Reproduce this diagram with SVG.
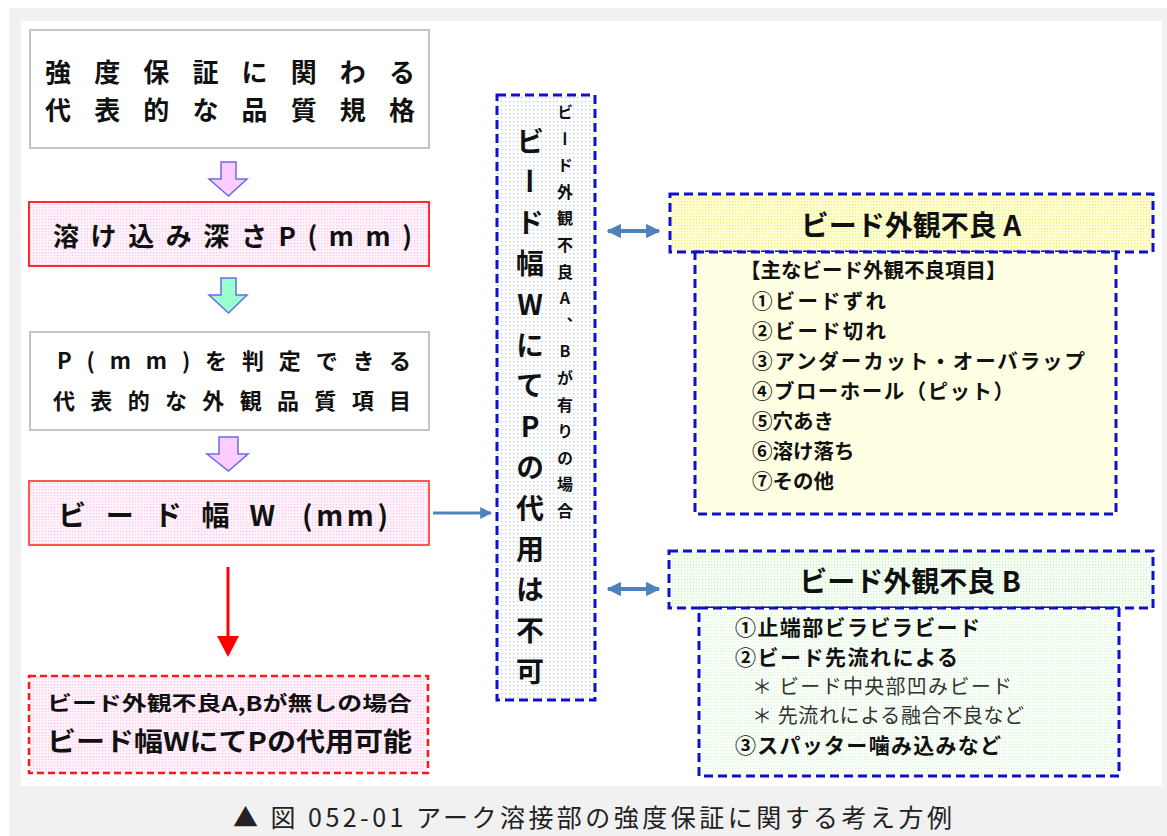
<svg xmlns="http://www.w3.org/2000/svg" width="1167" height="836" viewBox="0 0 1167 836">
<style>
.jp{font-family:"Noto Sans CJK JP","Noto Sans CJK SC",sans-serif;fill:#111}
.b{font-weight:bold}
.vt{writing-mode:vertical-rl;text-orientation:upright}
.blue{fill:none;stroke:#1010cc;stroke-width:3;stroke-dasharray:9 5}
.cap{font-family:"Noto Sans CJK JP","Noto Sans CJK SC",sans-serif;fill:#222}
</style>
<defs>
<pattern id="pinkDots" width="3" height="3" patternUnits="userSpaceOnUse">
<rect width="3" height="3" fill="#fff2fb"/><rect width="1.2" height="1.2" fill="#ffc4ec"/>
</pattern>
<pattern id="blueDots" width="4" height="4" patternUnits="userSpaceOnUse">
<rect width="4" height="4" fill="#ffffff"/><rect x="1" y="1" width="1.2" height="1.2" fill="#b4c4e4"/>
</pattern>
<pattern id="yellowDots" width="3" height="3" patternUnits="userSpaceOnUse">
<rect width="3" height="3" fill="#ffffd8"/><rect width="1.3" height="1.3" fill="#f2ee70"/>
</pattern>
<pattern id="greenDots" width="3" height="3" patternUnits="userSpaceOnUse">
<rect width="3" height="3" fill="#f6fff4"/><rect width="1.2" height="1.2" fill="#cdeec8"/>
</pattern>
<pattern id="greenDots2" width="3" height="3" patternUnits="userSpaceOnUse">
<rect width="3" height="3" fill="#f8fff6"/><rect width="1" height="1" fill="#d8f2d4"/>
</pattern>
<marker id="ah" viewBox="0 0 10 10" refX="9" refY="5" markerWidth="4" markerHeight="4" orient="auto-start-reverse">
<path d="M0,0 L10,5 L0,10 z" fill="#4f81bd"/>
</marker>
<marker id="ah2" viewBox="0 0 10 10" refX="9" refY="5" markerWidth="3.6" markerHeight="3.6" orient="auto-start-reverse">
<path d="M0,0 L10,5 L0,10 z" fill="#4f81bd"/>
</marker>
</defs>

<rect x="0" y="0" width="1167" height="836" fill="#ffffff"/>
<rect x="9" y="8" width="1158" height="828" fill="#f1f1f1"/>
<rect x="21" y="21" width="1141" height="765" fill="#ffffff"/>

<g id="box-standard">
<rect x="30" y="30" width="399" height="118" fill="#ffffff" stroke="#c4c4c4" stroke-width="2"/>
<text class="jp b" x="45" y="82" font-size="26" textLength="370" lengthAdjust="spacing">強度保証に関わる</text>
<text class="jp b" x="45" y="120" font-size="26" textLength="370" lengthAdjust="spacing">代表的な品質規格</text>
</g>

<g id="box-depth">
<rect x="29" y="202" width="400" height="64" fill="url(#pinkDots)" stroke="#ff2a2a" stroke-width="2"/>
<text class="jp b" x="53" y="246" font-size="26" textLength="359" lengthAdjust="spacing">溶け込み深さP(mm)</text>
</g>

<g id="box-items">
<rect x="30" y="332" width="399" height="98" fill="#ffffff" stroke="#c4c4c4" stroke-width="2"/>
<text class="jp b" x="57" y="369" font-size="22" textLength="354" lengthAdjust="spacing">P(mm)を判定できる</text>
<text class="jp b" x="53" y="409" font-size="22" textLength="358" lengthAdjust="spacing">代表的な外観品質項目</text>
</g>

<g id="box-width">
<rect x="29" y="481" width="400" height="64" fill="url(#pinkDots)" stroke="#ff5555" stroke-width="2"/>
<text class="jp b" x="58" y="526" font-size="28" textLength="217" lengthAdjust="spacing">ビード幅W</text>
<text class="jp b" x="302" y="526" font-size="28" textLength="86" lengthAdjust="spacing">(mm)</text>
</g>

<g id="box-possible">
<rect x="29" y="676" width="399" height="97" fill="url(#pinkDots)" stroke="#ff1a1a" stroke-width="2.5" stroke-dasharray="7 4"/>
<text class="jp b" x="47" y="711" font-size="20" textLength="365" lengthAdjust="spacingAndGlyphs">ビード外観不良A,Bが無しの場合</text>
<text class="jp b" x="47" y="751" font-size="26" textLength="365" lengthAdjust="spacingAndGlyphs">ビード幅WにてPの代用可能</text>
</g>

<g id="box-not-possible">
<rect x="497" y="95" width="98" height="605" fill="url(#blueDots)"/>
<rect x="497" y="95" width="98" height="605" class="blue"/>
<text class="jp b vt" x="530" y="127" font-size="28" letter-spacing="12.8">ビード幅WにてPの代用は不可</text>
<text class="jp b vt" x="565" y="104" font-size="16" letter-spacing="10.6">ビード外観不良A、Bが有りの場合</text>
</g>

<g id="box-a-header">
<rect x="670" y="194" width="483" height="58" fill="url(#yellowDots)"/>
<rect x="670" y="194" width="483" height="58" class="blue"/>
<text class="jp b" x="911" y="236" font-size="28" text-anchor="middle">ビード外観不良 A</text>
</g>

<g id="box-a-body">
<rect x="695" y="252" width="421" height="262" fill="#ffffe4"/>
<rect x="695" y="252" width="421" height="262" class="blue"/>
<g class="jp b" font-size="20.5">
<text x="740" y="278">【主なビード外観不良項目】</text>
<text x="752" y="309" textLength="134">①ビードずれ</text>
<text x="752" y="339" textLength="134">②ビード切れ</text>
<text x="752" y="369" textLength="333">③アンダーカット・オーバラップ</text>
<text x="752" y="399" textLength="262">④ブローホール（ピット）</text>
<text x="752" y="429">⑤穴あき</text>
<text x="752" y="459">⑥溶け落ち</text>
<text x="752" y="489">⑦その他</text>
</g>
</g>

<g id="box-b-header">
<rect x="669" y="551" width="484" height="57" fill="url(#greenDots)"/>
<rect x="669" y="551" width="484" height="57" class="blue"/>
<text class="jp b" x="910" y="592" font-size="28" text-anchor="middle">ビード外観不良 B</text>
</g>

<g id="box-b-body">
<rect x="699" y="608" width="420" height="168" fill="url(#greenDots2)"/>
<rect x="699" y="608" width="420" height="168" class="blue"/>
<g class="jp" font-size="21">
<text class="b" x="735" y="635" textLength="245">①止端部ビラビラビード</text>
<text class="b" x="735" y="665" textLength="223">②ビード先流れによる</text>
<text x="752" y="694" font-size="20" style="fill:#333" textLength="260">＊ ビード中央部凹みビード</text>
<text x="752" y="723" font-size="20" style="fill:#333" textLength="272">＊ 先流れによる融合不良など</text>
<text class="b" x="735" y="753" textLength="266">③スパッター噛み込みなど</text>
</g>
</g>

<g id="connectors">
<path d="M221,162 H236 V179 H247 L228.5,196 L209,179 H221 Z" fill="#ffccff" stroke="#6a6aee" stroke-width="1.5"/>
<path d="M221,278 H236 V295 H247 L228.5,313 L209,295 H221 Z" fill="#99ffcc" stroke="#6a6aee" stroke-width="1.5"/>
<path d="M219,437 H238 V454 H248 L228.5,471 L207,454 H219 Z" fill="#ffccff" stroke="#6a6aee" stroke-width="1.5"/>
<line x1="228" y1="567" x2="228" y2="638" stroke="#ff0000" stroke-width="3"/>
<path d="M217,636 L239,636 L228,657 Z" fill="#ff0000"/>
<line x1="433" y1="513" x2="491" y2="513" stroke="#4f81bd" stroke-width="3" marker-end="url(#ah)"/>
<line x1="608" y1="231" x2="659" y2="231" stroke="#4f81bd" stroke-width="4" marker-start="url(#ah2)" marker-end="url(#ah2)"/>
<line x1="608" y1="589" x2="659" y2="589" stroke="#4f81bd" stroke-width="4" marker-start="url(#ah2)" marker-end="url(#ah2)"/>
</g>

<text class="cap" x="233" y="827" font-size="25" textLength="719" lengthAdjust="spacing">▲ 図 052-01  アーク溶接部の強度保証に関する考え方例</text>
</svg>
